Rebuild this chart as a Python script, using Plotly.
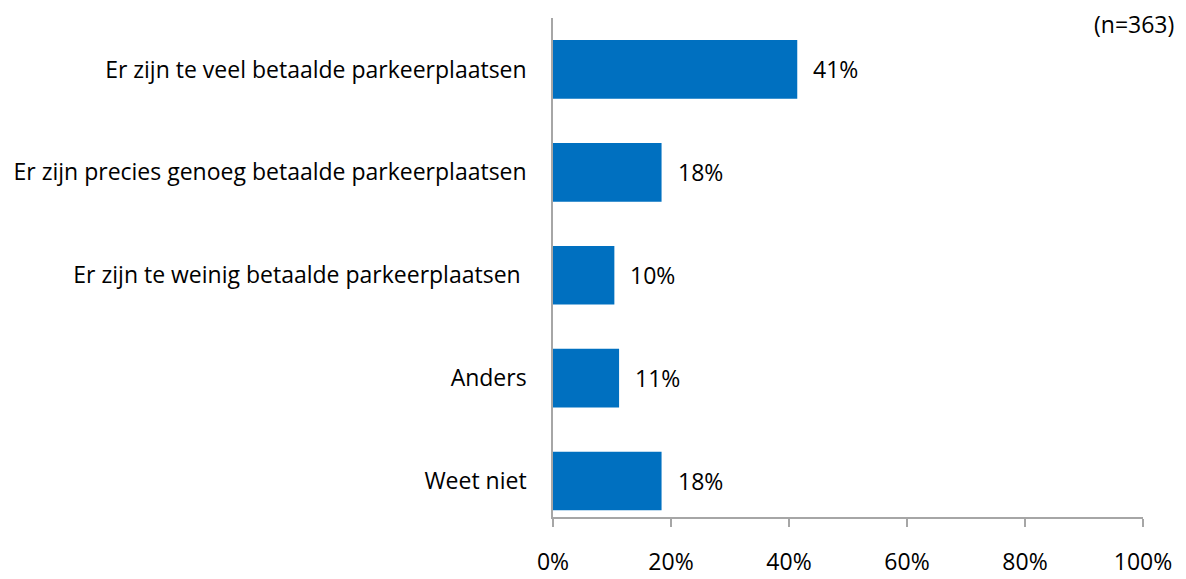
import plotly.graph_objects as go

categories = [
    "Er zijn te veel betaalde parkeerplaatsen",
    "Er zijn precies genoeg betaalde parkeerplaatsen",
    "Er zijn te weinig betaalde parkeerplaatsen\u00a0",
    "Anders",
    "Weet niet",
]
values = [41.4, 18.4, 10.4, 11.2, 18.4]
labels = ["41%", "18%", "10%", "11%", "18%"]
x_ticks = [0, 20, 40, 60, 80, 100]
x_tick_labels = ["0%", "20%", "40%", "60%", "80%", "100%"]
note = "(n=363)"

FONT = "Open Sans"
FS = 23
BAR = "#0070C0"
AXIS = "#A6A6A6"

fig = go.Figure()
fig.add_trace(go.Bar(
    x=values, y=list(range(len(categories))), orientation="h",
    marker=dict(color=BAR, line=dict(width=0)),
    width=0.57, hoverinfo="skip",
))
for v, i, t in zip(values, range(len(categories)), labels):
    fig.add_annotation(x=v, y=i, text=t, xanchor="left", yanchor="middle",
                       xshift=14, showarrow=False,
                       font=dict(family=FONT, size=FS, color="#000000"))
fig.add_annotation(x=1, y=1, xref="paper", yref="paper", text=note,
                   xanchor="right", yanchor="middle", xshift=33, yshift=-6,
                   showarrow=False, font=dict(family=FONT, size=FS, color="#000000"))

fig.update_layout(
    width=1178, height=571,
    margin=dict(l=545, r=43, t=10, b=62, autoexpand=False),
    paper_bgcolor="white", plot_bgcolor="white",
    showlegend=False,
    font=dict(family=FONT, size=FS, color="#000000"),
)
fig.update_xaxes(
    range=[0, 100], tickvals=x_ticks, ticktext=x_tick_labels,
    showgrid=False, zeroline=False, automargin=False,
    showline=True, linecolor=AXIS, linewidth=1.5,
    ticks="outside", ticklen=8, tickcolor=AXIS, tickwidth=1.5,
    ticklabelstandoff=16,
    tickfont=dict(family=FONT, size=FS, color="#000000"),
)
fig.update_yaxes(
    range=[4.35, -0.5], tickvals=list(range(len(categories))), ticktext=categories,
    showgrid=False, zeroline=False, automargin=False,
    showline=True, linecolor=AXIS, linewidth=1.5,
    ticks="", ticklabelstandoff=20,
    tickfont=dict(family=FONT, size=FS, color="#000000"),
)

fig.write_html("out.html")
